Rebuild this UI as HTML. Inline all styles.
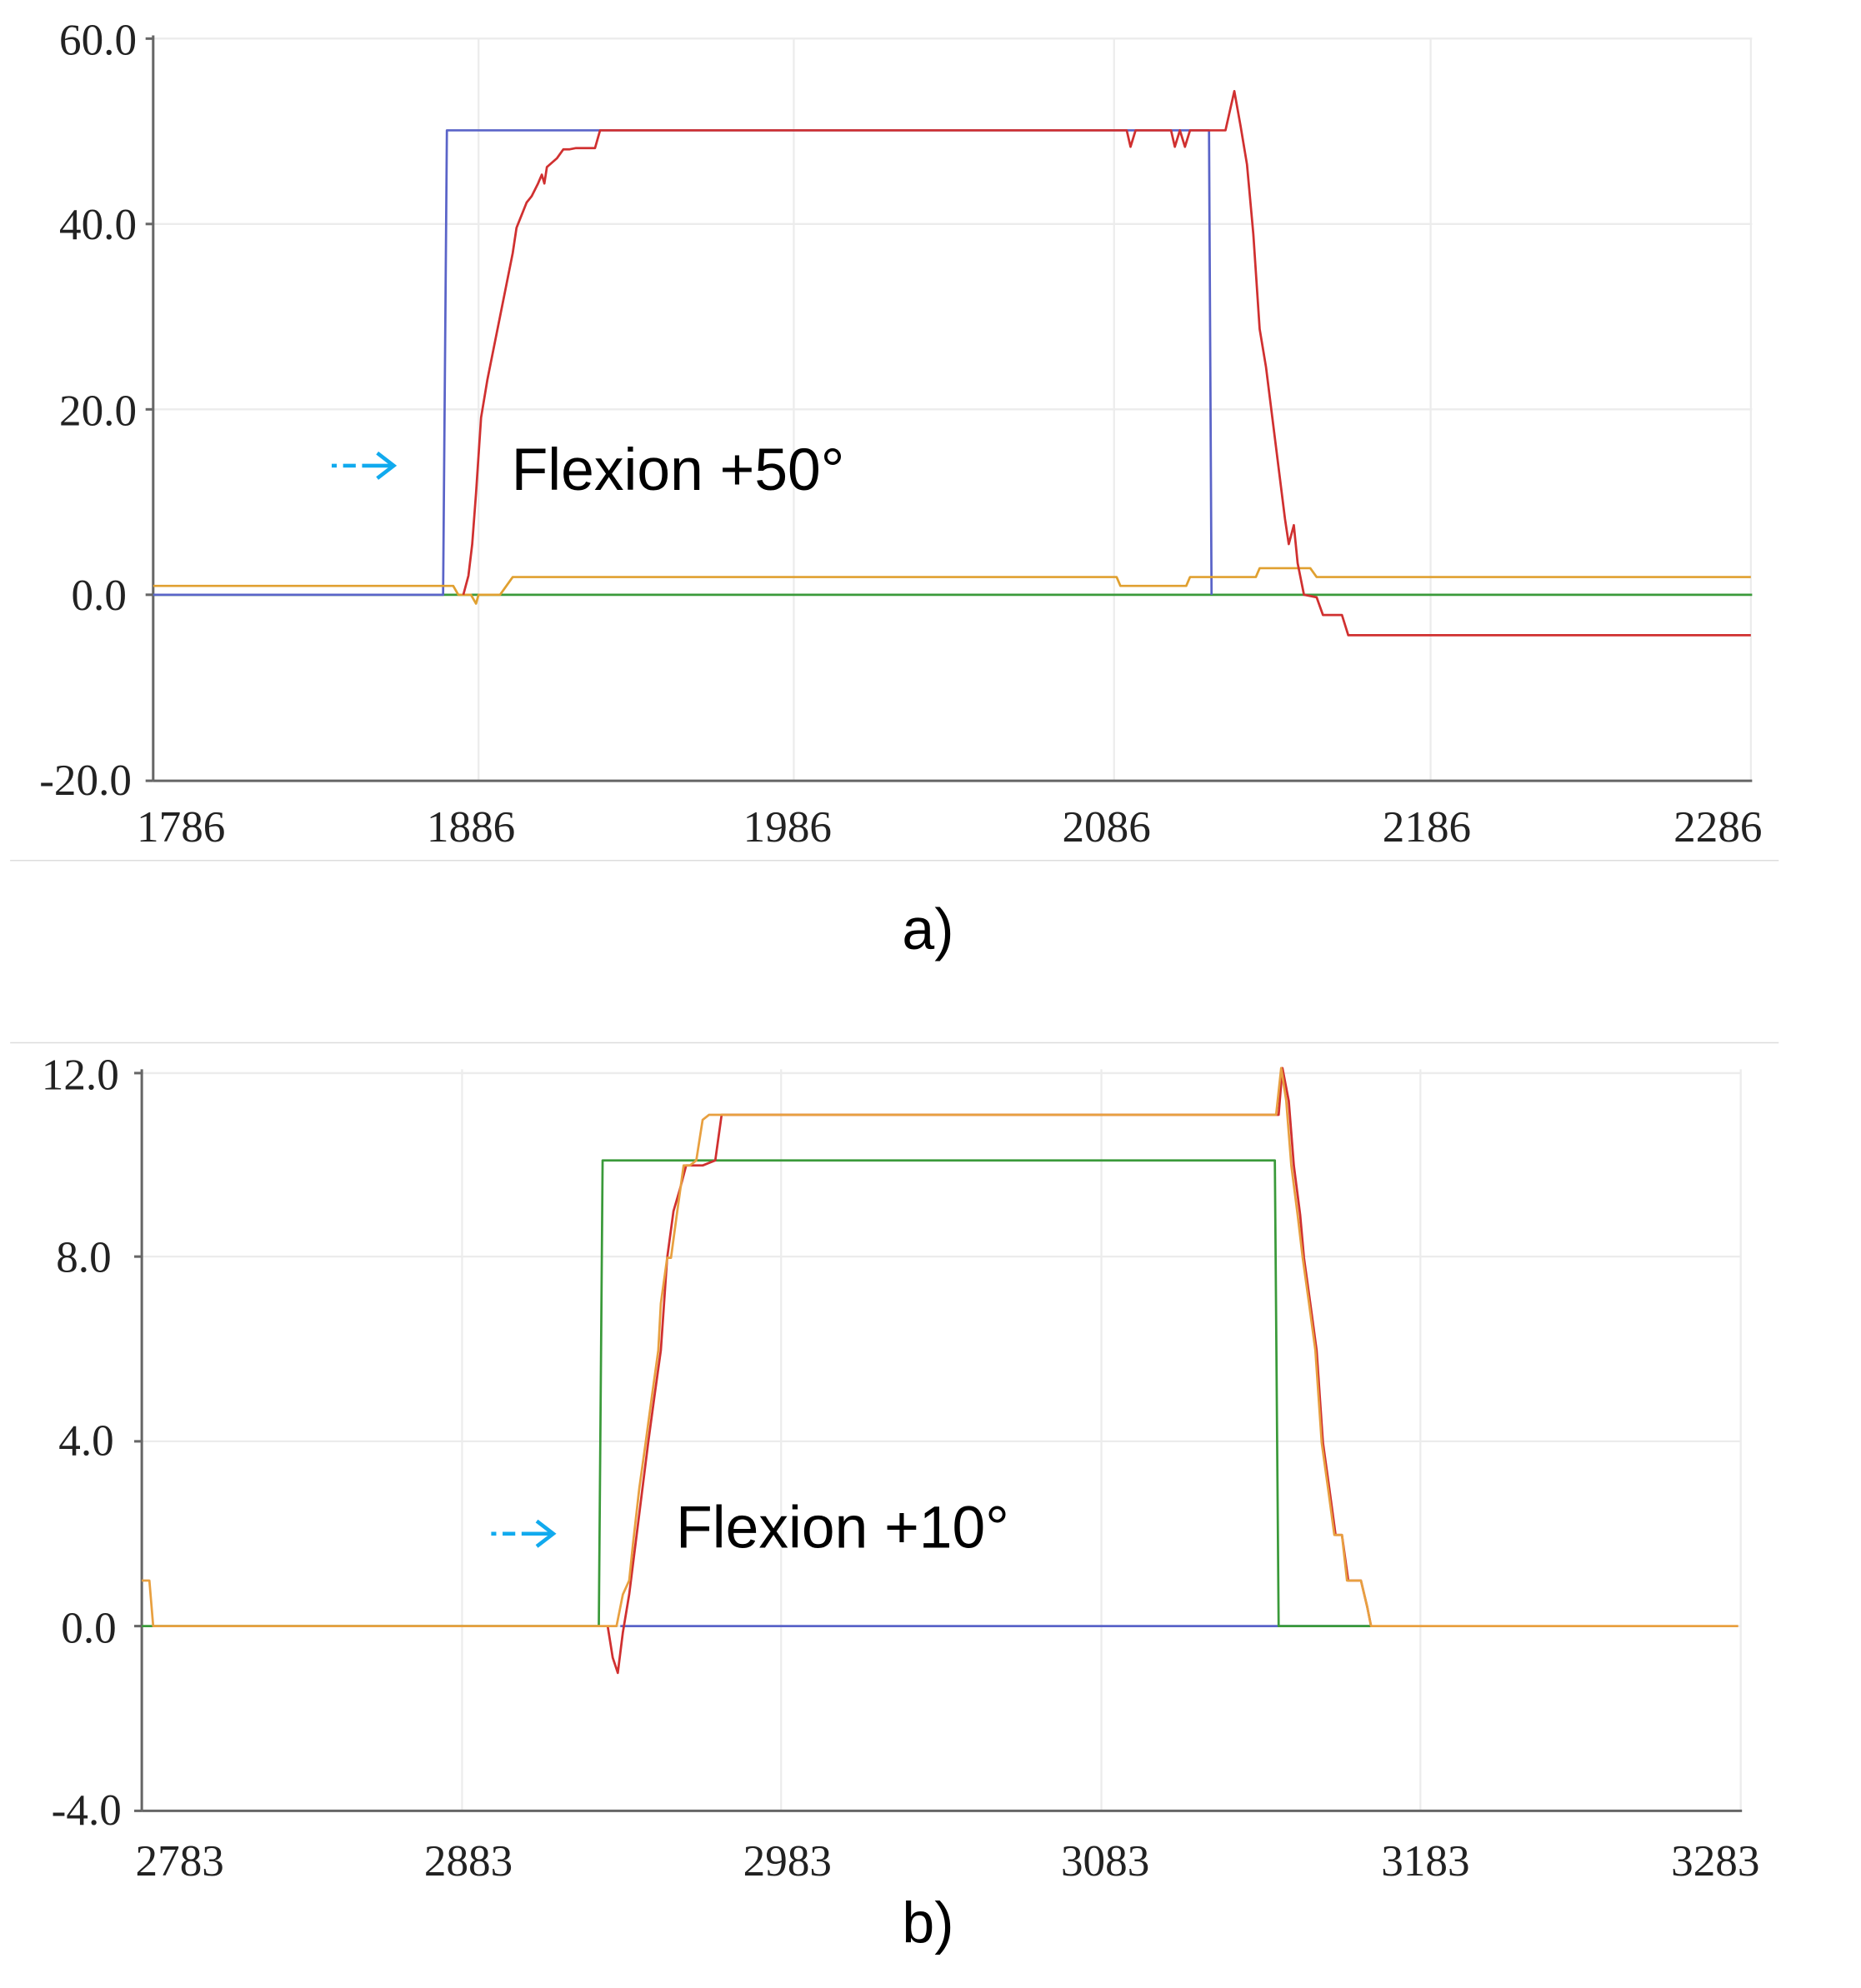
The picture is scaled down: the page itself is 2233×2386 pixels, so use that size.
<!DOCTYPE html>
<html><head><meta charset="utf-8"><style>
html,body{margin:0;padding:0;background:#fff;}
svg{display:block;}
.t{font-family:"Liberation Serif",serif;font-size:35px;fill:#222;}
.s{font-family:"Liberation Sans",sans-serif;fill:#000;}
</style></head><body>
<svg width="2233" height="2386" viewBox="0 0 1470 1571" preserveAspectRatio="none">
<rect width="1470" height="1571" fill="#fff"/>
<g stroke="#ececec" stroke-width="1.5" fill="none">
<line x1="121" y1="30.5" x2="1384" y2="30.5"/>
<line x1="121" y1="177" x2="1384" y2="177"/>
<line x1="121" y1="323.5" x2="1384" y2="323.5"/>
<line x1="121" y1="470" x2="1384" y2="470"/>
<line x1="378" y1="30" x2="378" y2="617"/>
<line x1="627" y1="30" x2="627" y2="617"/>
<line x1="880" y1="30" x2="880" y2="617"/>
<line x1="1130" y1="30" x2="1130" y2="617"/>
<line x1="1383" y1="30" x2="1383" y2="617"/>
</g>
<g stroke="#666" stroke-width="2" fill="none">
<line x1="121" y1="28" x2="121" y2="617"/>
<line x1="121" y1="617" x2="1384" y2="617"/>
<line x1="115" y1="30.5" x2="121" y2="30.5"/><line x1="115" y1="177" x2="121" y2="177"/>
<line x1="115" y1="323.5" x2="121" y2="323.5"/><line x1="115" y1="470" x2="121" y2="470"/>
<line x1="115" y1="617" x2="121" y2="617"/>
</g>
<g class="t" text-anchor="end">
<text x="108" y="43">60.0</text><text x="108" y="189">40.0</text><text x="108" y="336">20.0</text>
<text x="100" y="482">0.0</text><text x="104" y="628">-20.0</text>
</g>
<g class="t" text-anchor="middle">
<text x="143" y="665">1786</text><text x="372" y="665">1886</text><text x="622" y="665">1986</text>
<text x="874" y="665">2086</text><text x="1127" y="665">2186</text><text x="1357" y="665">2286</text>
</g>
<g fill="none" stroke-width="1.8" stroke-linejoin="round">
<line x1="121" y1="470" x2="1384" y2="470" stroke="#3a9a3a"/>
<polyline stroke="#5a64c8" points="121,470 350,470 353,103 955,103 957,470"/>
<polyline stroke="#e0a030" points="121,463 358,463 362,470 372,470 376,477 378,470 395,470 400,463 405,456 882,456 885,463 937,463 940,456 992,456 995,449 1035,449 1040,456 1383,456"/>
<polyline stroke="#d03030" points="366,470 370,455 373,430 376,390 380,330 385,300 390,275 395,250 400,225 405,200 408,180 412,170 416,160 420,155 425,145 428,138 430,145 432,132 440,125 445,118 450,118 455,117 470,117 474,103 890,103 893,116 897,103 925,103 928,116 932,103 936,116 940,103 968,103 975,72 980,100 985,130 990,185 995,260 1000,290 1005,330 1010,370 1015,410 1018,430 1022,415 1025,445 1030,470 1040,472 1045,486 1060,486 1065,502 1383,502"/>
</g>
<g stroke="#11aaee" stroke-width="3" fill="none">
<line x1="262" y1="368" x2="266" y2="368"/><line x1="271" y1="368" x2="281" y2="368"/><line x1="286" y1="368" x2="310" y2="368"/>
<polyline points="298,358 311,368 298,378"/>
</g>
<text class="s" x="404" y="387" font-size="47">Flexion +50°</text>
<line x1="8" y1="680" x2="1405" y2="680" stroke="#ddd" stroke-width="1"/>
<text class="s" x="733" y="750" font-size="46" text-anchor="middle">a)</text>
<line x1="8" y1="824" x2="1405" y2="824" stroke="#ddd" stroke-width="1"/>
<g stroke="#ececec" stroke-width="1.5" fill="none">
<line x1="112" y1="848" x2="1375" y2="848"/>
<line x1="112" y1="993" x2="1375" y2="993"/>
<line x1="112" y1="1139" x2="1375" y2="1139"/>
<line x1="112" y1="1285" x2="1375" y2="1285"/>
<line x1="365" y1="845" x2="365" y2="1431"/>
<line x1="617" y1="845" x2="617" y2="1431"/>
<line x1="870" y1="845" x2="870" y2="1431"/>
<line x1="1122" y1="845" x2="1122" y2="1431"/>
<line x1="1375" y1="845" x2="1375" y2="1431"/>
</g>
<g stroke="#666" stroke-width="2" fill="none">
<line x1="112" y1="845" x2="112" y2="1431"/>
<line x1="112" y1="1431" x2="1376" y2="1431"/>
<line x1="106" y1="848" x2="112" y2="848"/><line x1="106" y1="993" x2="112" y2="993"/>
<line x1="106" y1="1139" x2="112" y2="1139"/><line x1="106" y1="1285" x2="112" y2="1285"/>
<line x1="106" y1="1431" x2="112" y2="1431"/>
</g>
<g class="t" text-anchor="end">
<text x="94" y="861">12.0</text><text x="88" y="1005">8.0</text><text x="90" y="1150">4.0</text>
<text x="92" y="1298">0.0</text><text x="96" y="1442">-4.0</text>
</g>
<g class="t" text-anchor="middle">
<text x="142" y="1482">2783</text><text x="370" y="1482">2883</text><text x="622" y="1482">2983</text>
<text x="873" y="1482">3083</text><text x="1126" y="1482">3183</text><text x="1355" y="1482">3283</text>
</g>
<g fill="none" stroke-width="1.8" stroke-linejoin="round">
<polyline stroke="#5a64c8" points="490,1285 1083,1285"/>
<polyline stroke="#3a9a3a" points="112,1285 473,1285 476,917 1007,917 1010,1285 1083,1285"/>
<polyline stroke="#d03030" points="480,1285 484,1310 488,1322 492,1290 497,1260 502,1220 507,1180 512,1140 517,1103 522,1067 527,994 532,957 537,940 542,921 555,921 565,917 570,881 1010,881 1013,844 1018,870 1022,921 1027,960 1030,994 1035,1030 1040,1067 1045,1140 1050,1176 1055,1213 1060,1213 1065,1249 1075,1249 1080,1270 1083,1285"/>
<polyline stroke="#e8a040" points="112,1249 118,1249 121,1285 487,1285 492,1260 497,1249 500,1220 505,1176 510,1140 515,1103 520,1067 522,1030 527,994 530,994 535,957 540,921 545,921 550,917 555,885 560,881 1008,881 1012,844 1016,870 1020,921 1025,960 1029,994 1034,1030 1039,1067 1044,1140 1049,1176 1054,1213 1060,1213 1064,1249 1075,1249 1080,1270 1083,1285 1373,1285"/>
</g>
<g stroke="#11aaee" stroke-width="3" fill="none">
<line x1="388" y1="1212" x2="392" y2="1212"/><line x1="397" y1="1212" x2="407" y2="1212"/><line x1="412" y1="1212" x2="436" y2="1212"/>
<polyline points="424,1202 437,1212 424,1222"/>
</g>
<text class="s" x="534" y="1223" font-size="47">Flexion +10°</text>
<text class="s" x="733" y="1535" font-size="46" text-anchor="middle">b)</text>
</svg>
</body></html>
